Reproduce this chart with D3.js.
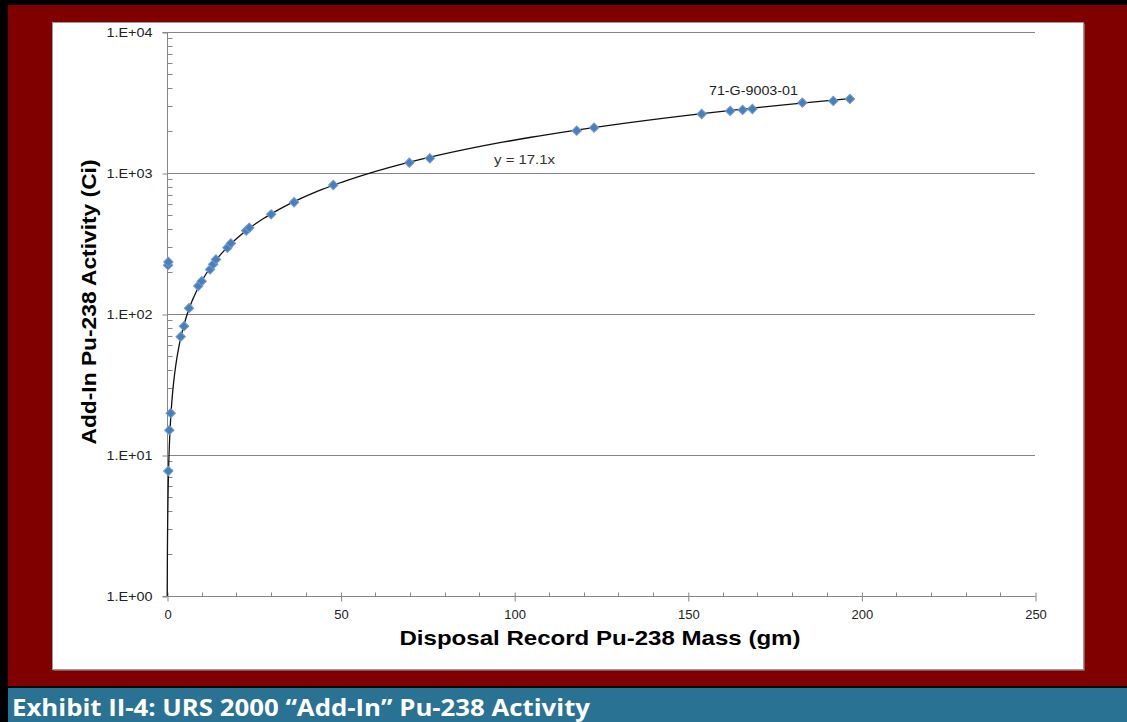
<!DOCTYPE html>
<html>
<head>
<meta charset="utf-8">
<script src="https://cdn.jsdelivr.net/npm/d3@7"></script>
<style>
  html, body { margin: 0; padding: 0; background: #000; }
  svg { display: block; }
</style>
</head>
<body>
<svg id="chart" width="1127" height="722"></svg>
<script>
// Disposal record mass (gm) vs. add-in Pu-238 activity (Ci)
const massGm = [0.3, 0.4, 0.38, 0.67, 1.07, 3.94, 4.9, 6.34, 9.0, 10.0, 12.4, 13.3, 14.1,
  17.4, 18.4, 22.8, 23.7, 30.0, 36.6, 47.9, 69.8, 75.7, 118.0, 123.0, 154.0, 162.2,
  165.8, 168.6, 183.0, 191.9, 196.7];
const activityCi = [222, 234, 7.7, 15.0, 19.8, 69, 82, 110, 158, 171, 207, 225, 244,
  295, 317, 390, 409, 509, 620, 822, 1183, 1271, 1995, 2096, 2620, 2754,
  2800, 2844, 3153, 3243, 3350];

const trendSlope = 17.1;                       // linear fit, y = 17.1x
const xTicks = [0, 50, 100, 150, 200, 250];
const yTicks = [1, 10, 100, 1000, 10000];
const yTickLabels = ["1.E+00", "1.E+01", "1.E+02", "1.E+03", "1.E+04"];

const xTitle = "Disposal Record Pu-238 Mass (gm)";
const yTitle = "Add-In Pu-238 Activity (Ci)";
const caption = "Exhibit II-4: URS 2000 \u201cAdd-In\u201d Pu-238 Activity";
const fitLabel = "y = 17.1x";
const pointLabel = "71-G-9003-01";

const svg = d3.select("#chart");

// page frame
svg.append("rect").attr("x", 0).attr("y", 0).attr("width", 1127).attr("height", 722).attr("fill", "#000");
svg.append("rect").attr("x", 8).attr("y", 5).attr("width", 1119).attr("height", 681).attr("fill", "#800000");
svg.append("rect").attr("x", 8).attr("y", 688).attr("width", 1119).attr("height", 34).attr("fill", "#2a7294");

// chart panel
svg.append("rect").attr("x", 53.5).attr("y", 23.5).attr("width", 1031).attr("height", 647)
  .attr("fill", "#a8a8a8");
svg.append("rect").attr("x", 52.5).attr("y", 22.5).attr("width", 1031).attr("height", 647)
  .attr("fill", "#fff").attr("stroke", "#9a9a9a").attr("stroke-width", 1);

const plot = { left: 167, right: 1035, top: 32, bottom: 596 };
const x = d3.scaleLinear().domain([0, 250]).range([plot.left, plot.right]);
const y = d3.scaleLog().domain([1, 10000]).range([plot.bottom, plot.top]);

const grid = "#868686";
const font = "Liberation Sans, Arial, sans-serif";
const g = svg.append("g");

// horizontal gridlines at each decade
g.selectAll("line.grid").data(yTicks.slice(1)).join("line")
  .attr("class", "grid")
  .attr("x1", plot.left).attr("x2", plot.right)
  .attr("y1", d => Math.round(y(d)) + 0.5).attr("y2", d => Math.round(y(d)) + 0.5)
  .attr("stroke", grid).attr("stroke-width", 1);

// y axis with log minor ticks on the inside
const yMinor = [];
for (let e = 0; e < 4; e++) for (let m = 2; m <= 9; m++) yMinor.push(m * Math.pow(10, e));
const yAxis = d3.axisLeft(y).tickValues(yTicks).tickSize(5)
  .tickFormat((d, i) => yTickLabels[i]).tickPadding(10);
const yAxisG = g.append("g").attr("transform", `translate(${plot.left + 0.5},0.5)`).call(yAxis);
yAxisG.select(".domain").attr("stroke", grid).attr("d", `M-5,${plot.top}H0V${plot.bottom}H-5`);
yAxisG.selectAll(".tick line").attr("stroke", grid);
yAxisG.selectAll("text").attr("fill", "#222").style("font-family", font)
  .style("font-size", "13px").attr("textLength", 46).attr("lengthAdjust", "spacingAndGlyphs");
yAxisG.selectAll("line.minor").data(yMinor).join("line").attr("class", "minor")
  .attr("x1", 0).attr("x2", 5)
  .attr("y1", d => Math.round(y(d))).attr("y2", d => Math.round(y(d)))
  .attr("stroke", grid);

// x axis with minor ticks every 10 gm
const xMinor = d3.range(10, 250, 10).filter(v => v % 50 !== 0);
const xAxis = d3.axisBottom(x).tickValues(xTicks).tickSize(5).tickPadding(8).tickFormat(d3.format("d"));
const xAxisG = g.append("g").attr("transform", `translate(0.5,${plot.bottom + 0.5})`).call(xAxis);
xAxisG.select(".domain").attr("stroke", grid).attr("d", `M${plot.left},0H${plot.right}`);
xAxisG.selectAll(".tick line").attr("stroke", grid).attr("y1", -4);
xAxisG.selectAll("text").attr("fill", "#222").style("font-family", font)
  .style("font-size", "13px");
xAxisG.selectAll("line.minor").data(xMinor).join("line").attr("class", "minor")
  .attr("x1", d => Math.round(x(d))).attr("x2", d => Math.round(x(d)))
  .attr("y1", -4).attr("y2", 0).attr("stroke", grid);

// fitted line y = 17.1x across the data range
const xMax = d3.max(massGm);
const xStart = 1 / trendSlope;
const fitPts = d3.range(0, 401).map(i => {
  const t = i / 400;
  const xv = xStart * Math.pow(xMax / xStart, t);
  return [xv, trendSlope * xv];
});
g.append("path").datum(fitPts)
  .attr("d", d3.line().x(d => x(d[0])).y(d => y(d[1])))
  .attr("fill", "none").attr("stroke", "#111").attr("stroke-width", 1.3);

// data markers (diamonds)
g.selectAll("path.pt").data(massGm.map((m, i) => [m, activityCi[i]])).join("path")
  .attr("class", "pt")
  .attr("transform", d => `translate(${x(d[0])},${y(d[1])}) rotate(45)`)
  .attr("d", d3.symbol().type(d3.symbolSquare).size(44))
  .attr("fill", "#4a7ebb").attr("stroke", "#6f9bd1").attr("stroke-width", 1);

// annotations
g.append("text").attr("x", x(94.2)).attr("y", y(1150))
  .attr("fill", "#333").style("font-family", font)
  .style("font-size", "13px").attr("textLength", 61).attr("lengthAdjust", "spacingAndGlyphs")
  .text(fitLabel);
g.append("text").attr("x", x(156.1)).attr("y", y(3600))
  .attr("fill", "#222").style("font-family", font)
  .style("font-size", "13px").attr("textLength", 89).attr("lengthAdjust", "spacingAndGlyphs")
  .text(pointLabel);

// axis titles
svg.append("text").attr("x", 600).attr("y", 645).attr("text-anchor", "middle")
  .style("font-family", font).style("font-weight", "bold")
  .style("font-size", "21px").attr("fill", "#000")
  .attr("textLength", 401).attr("lengthAdjust", "spacingAndGlyphs")
  .text(xTitle);
svg.append("text").attr("transform", "translate(96,302) rotate(-90)").attr("text-anchor", "middle")
  .style("font-family", font).style("font-weight", "bold")
  .style("font-size", "20px").attr("fill", "#000")
  .attr("textLength", 285).attr("lengthAdjust", "spacingAndGlyphs")
  .text(yTitle);

// exhibit caption bar
svg.append("text").attr("x", 12).attr("y", 716)
  .style("font-family", "Open Sans, Noto Sans, sans-serif").style("font-weight", "bold")
  .style("font-size", "23px").attr("fill", "#fff")
  .attr("textLength", 578).attr("lengthAdjust", "spacingAndGlyphs")
  .text(caption);
</script>
</body>
</html>
